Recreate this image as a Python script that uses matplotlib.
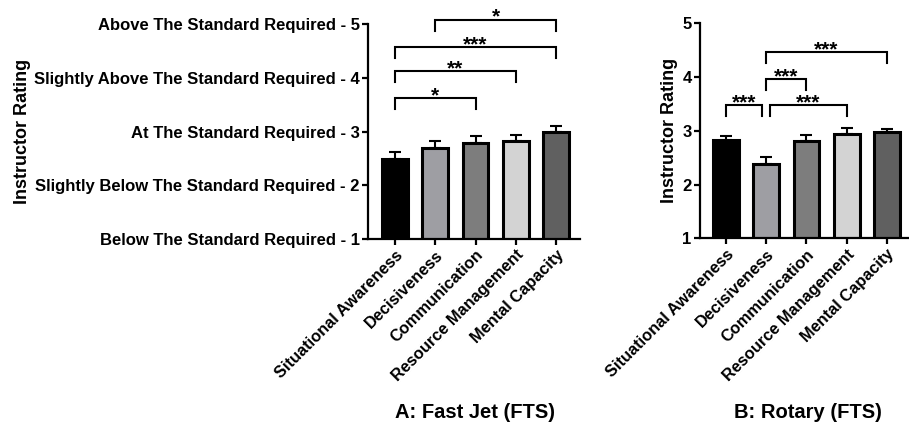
import matplotlib
matplotlib.use("Agg")
import matplotlib.pyplot as plt

plt.rcParams['font.family'] = ['Liberation Sans', 'DejaVu Sans']
plt.rcParams['font.weight'] = 'bold'

# skill categories, same on both panels
skills = ['Situational Awareness', 'Decisiveness', 'Communication',
          'Resource Management', 'Mental Capacity']
bar_colors = ['#000000', '#9e9ea3', '#7d7d7d', '#d3d3d3', '#606060']

# panel A: fast jet
fj_mean = [2.49, 2.70, 2.79, 2.83, 2.99]
fj_sem = [0.14, 0.12, 0.13, 0.11, 0.12]
# brackets: (bar i, bar j, height, stars)
fj_sig = [(0, 2, 3.63, '*'), (0, 3, 4.13, '**'), (0, 4, 4.58, '***'), (1, 4, 5.09, '*')]
fj_yticklabels = ['Below The Standard Required - 1',
                  'Slightly Below The Standard Required - 2',
                  'At The Standard Required - 3',
                  'Slightly Above The Standard Required - 4',
                  'Above The Standard Required - 5']

# panel B: rotary
rw_mean = [2.82, 2.39, 2.81, 2.94, 2.97]
rw_sem = [0.09, 0.12, 0.11, 0.11, 0.07]
rw_sig = [(0, 0.9, 3.48, '***'), (1, 2, 3.96, '***'), (1.1, 3, 3.48, '***'), (1, 4, 4.47, '***')]
rw_yticklabels = ['1', '2', '3', '4', '5']


def draw_panel(ax, means, sems, sig, yticklabels, xlim, ypad):
    x = list(range(len(skills)))
    ax.bar(x, means, width=0.64, color=bar_colors, edgecolor='black', linewidth=2.2, zorder=2)
    ax.errorbar(x, means, yerr=[[0] * len(sems), sems], fmt='none', ecolor='black',
                elinewidth=1.5, capsize=4.5, capthick=1.5, zorder=1)
    ax.set_xlim(*xlim)
    ax.set_ylim(1, 5)
    ax.set_yticks([1, 2, 3, 4, 5])
    ax.set_yticklabels(yticklabels, fontsize=12, fontweight='bold')
    ax.set_xticks(x)
    ax.set_xticklabels(skills, rotation=45, ha='right', rotation_mode='anchor',
                       fontsize=11.8, fontweight='bold')
    ax.set_ylabel('Instructor Rating', fontsize=13, fontweight='bold', labelpad=ypad)
    for side in ['top', 'right']:
        ax.spines[side].set_visible(False)
    for side in ['left', 'bottom']:
        ax.spines[side].set_linewidth(1.6)
    ax.tick_params(width=1.6, length=4, pad=2)

    drop = 0.21
    for i, j, h, stars in sig:
        ax.plot([i, i, j, j], [h - drop, h, h, h - drop], color='black', lw=1.5,
                clip_on=False, solid_joinstyle='miter')
        ax.text((i + j) / 2, h - 0.06, stars, ha='center', va='baseline',
                fontsize=15, fontweight='bold', clip_on=False)


fig = plt.figure(figsize=(9.09, 4.25), dpi=100)
ax_a = fig.add_axes([0.4048, 0.4376, 0.2332, 0.505])
ax_b = fig.add_axes([0.7700, 0.4393, 0.2300, 0.506])

draw_panel(ax_a, fj_mean, fj_sem, fj_sig, fj_yticklabels, (-0.67, 4.59), 2)
draw_panel(ax_b, rw_mean, rw_sem, rw_sig, rw_yticklabels, (-0.65, 4.55), 3)

fig.text(475 / 909, 1 - 412 / 425, 'A: Fast Jet (FTS)', ha='center', va='center',
         fontsize=14.5, fontweight='bold')
fig.text(808 / 909, 1 - 412 / 425, 'B: Rotary (FTS)', ha='center', va='center',
         fontsize=14.5, fontweight='bold')

fig.savefig('out.png', dpi=100)
